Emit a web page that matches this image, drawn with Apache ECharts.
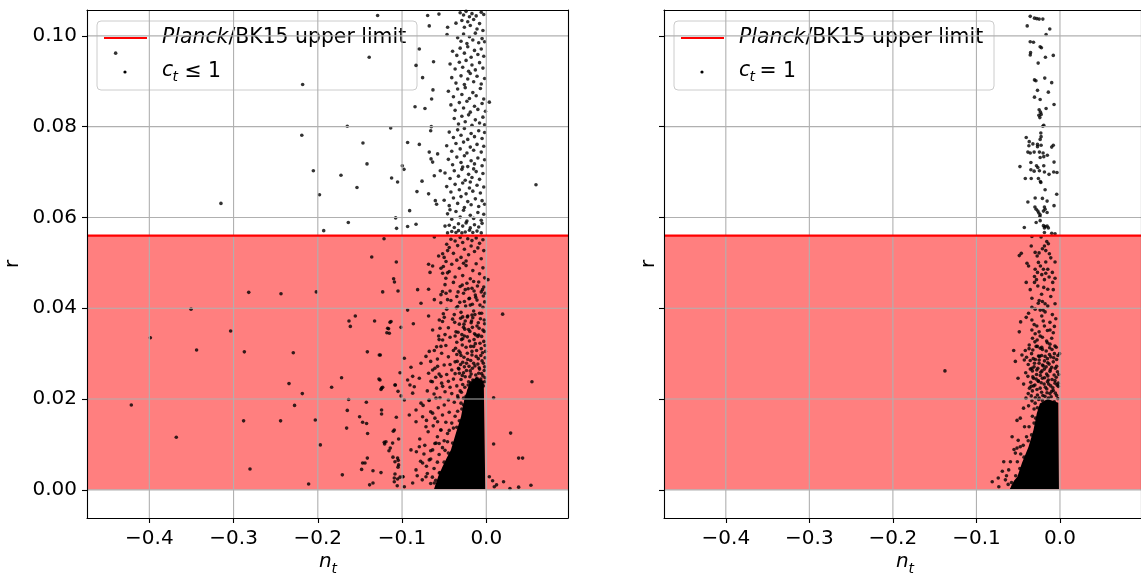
<!DOCTYPE html>
<html><head><meta charset="utf-8">
<script src="https://cdn.jsdelivr.net/npm/echarts/dist/echarts.min.js"></script>
<style>html,body{margin:0;padding:0;background:#fff}#c{width:1141px;height:577px}</style>
</head><body><div id="c"></div>
<script>
// ---------- axis ranges & ticks ----------
const X_MIN = -0.474, X_MAX = 0.097;
const Y_MIN = -0.0062, Y_MAX = 0.1057;
const xTicks = [-0.4, -0.3, -0.2, -0.1, 0.0];
const yTicks = [0.00, 0.02, 0.04, 0.06, 0.08, 0.10];
const rUpperLimit = 0.056;   // Planck/BK15 upper limit on r

// ---------- left panel (c_t <= 1) ----------
const ctLe1Outliers = [
[-0.440,0.0962],[-0.218,0.0893],[-0.139,0.0953],[-0.129,0.1045],[-0.165,0.0801],[-0.1135,0.0797],[-0.219,0.0781],[-0.1464,0.0764],
[-0.1416,0.0718],[-0.2053,0.0703],[-0.1725,0.0693],[-0.0997,0.0714],[-0.0977,0.0706],[-0.1124,0.0687],[-0.1053,0.0678],[-0.1535,0.0666],
[-0.198,0.065],[-0.315,0.0631],[-0.1638,0.0589],[-0.1076,0.0599],[-0.1065,0.0576],[-0.193,0.0571],[-0.1214,0.0553],
[-0.136,0.0513],[-0.1068,0.0502],[-0.110,0.0465],[-0.109,0.0458],[-0.282,0.0435],[-0.2437,0.0432],[-0.2018,0.0436],[-0.123,0.0436],
[-0.1048,0.0438],[-0.3505,0.0398],[-0.1555,0.0383],[-0.163,0.0372],[-0.1614,0.036],[-0.1326,0.0372],[-0.1143,0.0369],[-0.116,0.0355],
[-0.118,0.0346],[-0.3988,0.0335],[-0.3035,0.035],[-0.3439,0.0308],[-0.2872,0.0304],[-0.2291,0.0302],[-0.1412,0.0304],[-0.1258,0.0297],
[-0.1718,0.0247],[-0.1836,0.0226],[-0.2342,0.0234],[-0.2184,0.0212],[-0.1274,0.0244],[-0.123,0.0226],[-0.125,0.0221],[-0.1084,0.0231],
[-0.1048,0.0217],[-0.4214,0.0187],[-0.368,0.0116],[-0.2276,0.0186],[-0.2881,0.0152],[-0.2442,0.0152],[-0.203,0.0154],[-0.197,0.0099],
[-0.2805,0.0046],[-0.2109,0.0013],[-0.1634,0.0199],[-0.1424,0.0193],[-0.165,0.0175],[-0.1504,0.0161],[-0.1468,0.0149],[-0.1421,0.0146],
[-0.1658,0.0136],[-0.1409,0.0124],[-0.1243,0.0176],[-0.1243,0.0167],[-0.1068,0.016],[-0.1104,0.0129],[-0.1041,0.0112],[-0.1211,0.0105],
[-0.1207,0.0101],[-0.114,0.0092],[-0.1155,0.0086],[-0.1412,0.007],[-0.1468,0.0059],[-0.144,0.0059],[-0.148,0.0045],[-0.1345,0.0042],
[-0.125,0.0038],[-0.1709,0.0033],[-0.1385,0.0011],[-0.1345,0.0015],[-0.1084,0.0035],[-0.1092,0.0018],[-0.1053,0.0024],[-0.1057,0.0009],
[-0.1024,0.0028],[-0.0989,0.0029],[-0.1108,0.0072],[-0.1084,0.0062],[-0.1045,0.0065],[-0.1041,0.0055],[-0.1048,0.005],
[-0.0696,0.1045],[-0.0562,0.1048],[-0.0677,0.1022],[-0.0459,0.1019],[-0.0466,0.1003],[-0.0795,0.0971],[-0.0834,0.0935],[-0.0626,0.0943],
[-0.0756,0.0908],[-0.0846,0.0844],[-0.0728,0.084],[-0.0649,0.0861],[-0.0633,0.0881],[-0.0653,0.08],[-0.066,0.0791],[-0.0934,0.0765],
[-0.0795,0.0761],[-0.0677,0.0744],[-0.0578,0.074],[-0.0656,0.0729],[-0.0637,0.0722],[-0.0763,0.068],[-0.0546,0.0703],[-0.0617,0.0692],
[-0.0823,0.0657],[-0.0685,0.0652],[-0.0605,0.0637],[-0.059,0.0629],[-0.091,0.0615],[-0.0834,0.0585],[-0.0934,0.058],[-0.049,0.0581],
[-0.0431,0.0617],[-0.0617,0.0557],[0.059,0.0672],[0.0036,0.0854],
[0.002,0.0463],[0.0194,0.0387],[0.0542,0.0238],[0.0087,0.0203],[0.0289,0.0125],[0.0087,0.0101],[0.0384,0.007],[0.0431,0.007],
[0.0036,0.0029],[0.0075,0.002],[0.0122,0.0011],[0.0095,0.0007],[0.0205,0.0018],[0.0384,0.0006],[0.053,0.001],[0.0281,0.0003]
];
const ctLe1Fringe = [
[-0.0685,0.0497],[-0.0637,0.0493],[-0.0668,0.0479],[-0.0538,0.0488],[-0.0518,0.0477],[-0.0478,0.0503],[-0.0566,0.0515],[-0.0518,0.052],
[-0.0459,0.0527],[-0.0815,0.0441],[-0.0685,0.0442],[-0.0775,0.0411],[-0.0617,0.0419],[-0.0538,0.043],[-0.0478,0.0433],[-0.0934,0.0396],
[-0.1131,0.0371],[-0.1171,0.0356],[-0.1151,0.0345],[-0.1012,0.0358],[-0.0866,0.0366],[-0.0685,0.0383],[-0.0558,0.0374],[-0.0499,0.038],
[-0.0637,0.0352],[-0.0566,0.0339],[-0.0518,0.033],[-0.0677,0.0305],[-0.0617,0.0307],[-0.0538,0.0316],[-0.127,0.0297],[-0.0973,0.029],
[-0.0894,0.027],[-0.0874,0.025],[-0.1024,0.0258],[-0.108,0.0231],[-0.1262,0.0242],[-0.1243,0.0224],[-0.0775,0.0279],[-0.0716,0.0294],
[-0.0685,0.0257],[-0.0795,0.0246],[-0.0637,0.0264],[-0.0578,0.0272],[-0.0538,0.025],[-0.0657,0.0239],[-0.0518,0.0228],[-0.0934,0.0242],
[-0.0906,0.0231],[-0.0855,0.0227],[-0.1012,0.0207],[-0.0973,0.0198],[-0.0874,0.0213],[-0.0775,0.0191],[-0.0834,0.0176],[-0.0677,0.0198],
[-0.0597,0.0202],[-0.0499,0.0187],[-0.0914,0.0165],[-0.0834,0.015],[-0.1092,0.0132],[-0.1191,0.0106],[-0.1112,0.0103],[-0.0756,0.0161],
[-0.0637,0.0169],[-0.0716,0.0139],[-0.0578,0.015],[-0.0538,0.0132],[-0.1053,0.007],[-0.1092,0.0026],[-0.0993,0.0029],[-0.0834,0.0044],
[-0.0756,0.0059],[-0.0677,0.0066],[-0.0637,0.0088],[-0.0597,0.0103],[-0.0795,0.0095],[-0.0894,0.0088],[-0.0874,0.0015],[-0.0716,0.0029],
[-0.0617,0.0015],[-0.0558,0.0037],[-0.0973,0.0007],
[-0.066,0.0172],[-0.061,0.0158],[-0.057,0.0181],[-0.052,0.0165],[-0.048,0.0149],[-0.044,0.0171],[-0.069,0.0128],[-0.063,0.0141],
[-0.058,0.0117],[-0.054,0.0132],[-0.050,0.0108],[-0.046,0.0124],[-0.073,0.0098],[-0.066,0.0086],[-0.061,0.0102],[-0.056,0.0078],
[-0.052,0.0093],[-0.078,0.0063],[-0.071,0.0052],[-0.066,0.0068],[-0.062,0.0047],[-0.058,0.0061],[-0.082,0.0031],[-0.076,0.0022],
[-0.070,0.0036],[-0.066,0.0014],[-0.064,0.0028],[-0.074,0.0079],[-0.079,0.0112],[-0.083,0.0084],[-0.071,0.0153],[-0.075,0.0186],
[-0.068,0.0197],[-0.059,0.0224],[-0.064,0.0238],[-0.070,0.0218],[-0.056,0.0255],[-0.061,0.0268],[-0.066,0.0283],[-0.053,0.0301],
[-0.059,0.0315],[-0.049,0.0342],[-0.055,0.0356],[-0.051,0.0388],[-0.046,0.0419],[-0.052,0.0437],[-0.048,0.0466],[-0.044,0.0481],
[-0.050,0.0512],[-0.047,0.0541],
[-0.060,0.0021],[-0.058,0.0009],[-0.055,0.0038],[-0.053,0.0024],[-0.050,0.0061],[-0.048,0.0043],[-0.045,0.0081],[-0.043,0.0066],
[-0.040,0.0103],[-0.038,0.0091],[-0.035,0.0138],[-0.033,0.0119],[-0.032,0.0152],[-0.029,0.0178],[-0.027,0.0187],[-0.024,0.0206],
[-0.021,0.0218],[-0.056,0.0102],[-0.049,0.0087],[-0.046,0.0106],[-0.044,0.0131],[-0.041,0.0147],[-0.039,0.0136],[-0.037,0.0162],
[-0.034,0.0173],[-0.030,0.0191]
];
const ctLe1BandLow = [
[-0.042,0.0552],[-0.037,0.0548],[-0.031,0.0556],[-0.028,0.0545],[-0.022,0.0553],[-0.017,0.0549],[-0.012,0.0555],[-0.008,0.0543],[-0.004,0.0551],
[-0.044,0.0534],[-0.039,0.0521],[-0.034,0.0538],[-0.030,0.0512],[-0.026,0.053],[-0.021,0.0518],[-0.018,0.0537],[-0.014,0.0525],[-0.010,0.0533],[-0.006,0.0509],[-0.003,0.0527],[-0.024,0.0504],[-0.035,0.0506],
[-0.051,0.0492],[-0.046,0.0478],[-0.041,0.0497],[-0.037,0.0469],[-0.032,0.0488],[-0.028,0.0472],[-0.024,0.0494],[-0.019,0.0465],[-0.016,0.0483],[-0.012,0.0498],[-0.008,0.0476],[-0.004,0.0489],[-0.002,0.0467],[-0.027,0.0499],
[-0.049,0.0452],[-0.043,0.0438],[-0.039,0.0457],[-0.035,0.0426],[-0.031,0.0448],[-0.027,0.0433],[-0.023,0.0455],[-0.020,0.0422],[-0.017,0.0444],[-0.013,0.0429],[-0.009,0.0458],[-0.006,0.0436],[-0.003,0.0447],[-0.025,0.0441],[-0.015,0.0459],
[-0.054,0.0412],[-0.047,0.0398],[-0.042,0.0417],[-0.038,0.0386],[-0.034,0.0404],[-0.030,0.0391],[-0.026,0.0415],[-0.022,0.0383],[-0.019,0.0407],[-0.015,0.0394],[-0.011,0.0418],[-0.008,0.0389],[-0.004,0.0402],[-0.002,0.0414],[-0.028,0.0381],[-0.017,0.0385],
[-0.052,0.0371],[-0.045,0.0357],[-0.040,0.0376],[-0.036,0.0348],[-0.032,0.0365],[-0.029,0.0342],[-0.025,0.0372],[-0.021,0.0353],[-0.018,0.0368],[-0.014,0.0344],[-0.011,0.0361],[-0.007,0.0377],[-0.004,0.0352],[-0.002,0.0366],[-0.027,0.0358],[-0.016,0.0379],[-0.009,0.0341],
[-0.056,0.0331],[-0.048,0.0318],[-0.043,0.0336],[-0.039,0.0307],[-0.035,0.0325],[-0.031,0.0302],[-0.028,0.0333],[-0.024,0.0314],[-0.020,0.0328],[-0.017,0.0305],[-0.013,0.0322],[-0.010,0.0338],[-0.006,0.0311],[-0.003,0.0327],[-0.001,0.0305],[-0.026,0.0339],[-0.015,0.0316],[-0.037,0.0339],
[-0.058,0.0288],[-0.050,0.0275],[-0.045,0.0293],[-0.041,0.0264],[-0.037,0.0282],[-0.033,0.0268],[-0.030,0.0296],[-0.026,0.0271],[-0.022,0.0287],[-0.019,0.0262],[-0.015,0.0279],[-0.012,0.0294],[-0.008,0.0266],[-0.005,0.0284],[-0.002,0.0271],[-0.028,0.0281],[-0.017,0.0297],[-0.010,0.0277],[-0.035,0.0298],[-0.043,0.0276],
[-0.060,0.0248],[-0.053,0.0235],[-0.047,0.0254],[-0.043,0.0226],[-0.039,0.0244],[-0.035,0.0229],[-0.032,0.0257],[-0.028,0.0232],[-0.025,0.0249],[-0.021,0.0238],[-0.018,0.0255],[-0.014,0.0229],[-0.011,0.0246],[-0.007,0.0233],[-0.004,0.0251],[-0.002,0.0238],[-0.030,0.0243],[-0.016,0.0242],[-0.009,0.0257],[-0.037,0.0256],[-0.045,0.0239],[-0.027,0.0258],
[-0.062,0.0211],[-0.055,0.0203],[-0.049,0.0216],[-0.045,0.0198],[-0.041,0.0212],[-0.038,0.0193],[-0.034,0.0207],[-0.031,0.0218],[-0.027,0.0202]
];
const ctLe1BandDense = [
[-0.0335,0.0203],[-0.0295,0.0215],[-0.0255,0.0226],[-0.0215,0.0231],[-0.0185,0.0236],[-0.0145,0.0241],[-0.0105,0.0236],[-0.0065,0.0244],[-0.0035,0.0229],[-0.0015,0.0247],
[-0.0325,0.0266],[-0.0285,0.0252],[-0.0235,0.0263],[-0.0195,0.0249],[-0.0165,0.0268],[-0.0125,0.0253],[-0.0085,0.0269],[-0.0055,0.0256],[-0.0025,0.0263],[-0.0205,0.0272],
[-0.0345,0.0283],[-0.0305,0.0276],[-0.0265,0.0292],[-0.0235,0.0279],[-0.0185,0.0285],[-0.0135,0.0273],[-0.0095,0.0289],[-0.0065,0.0296],[-0.0035,0.0279],[-0.0015,0.0291],
[-0.0365,0.0312],[-0.0325,0.0306],[-0.0285,0.0319],[-0.0225,0.0301],[-0.0185,0.0316],[-0.0145,0.0331],[-0.0115,0.0307],[-0.0075,0.0323],[-0.0045,0.0302],[-0.0015,0.0318],
[-0.0335,0.0347],[-0.0295,0.0331],[-0.0255,0.0354],[-0.0225,0.0337],[-0.0195,0.0349],[-0.0165,0.0358],[-0.0125,0.0341],[-0.0085,0.0356],[-0.0055,0.0338],[-0.0025,0.0349],
[-0.0375,0.0369],[-0.0305,0.0378],[-0.0265,0.0365],[-0.0225,0.0381],[-0.0175,0.0372],[-0.0135,0.0386],[-0.0095,0.0368],[-0.0055,0.0389],[-0.0025,0.0374],
[-0.0355,0.0401],[-0.0315,0.0413],[-0.0245,0.0405],[-0.0205,0.0421],[-0.0165,0.0409],[-0.0125,0.0424],[-0.0075,0.0407],[-0.0035,0.0427],
[-0.0335,0.0436],[-0.0285,0.0451],[-0.0215,0.0443],[-0.0145,0.0438],[-0.0105,0.0449],[-0.0045,0.0441],[-0.0015,0.0433]
];
const ctLe1BandHigh = [
[-0.031,0.1051],[-0.027,0.1046],[-0.024,0.1054],[-0.020,0.1042],[-0.017,0.1049],[-0.012,0.1044],[-0.006,0.1052],[-0.003,0.1047],
[-0.036,0.1028],[-0.029,0.1034],[-0.026,0.1019],[-0.022,0.1031],[-0.019,0.1023],[-0.015,0.1036],[-0.011,0.1015],[-0.008,0.1027],[-0.004,0.1012],
[-0.034,0.0996],[-0.030,0.0988],[-0.027,0.1004],[-0.023,0.0983],[-0.020,0.0998],[-0.016,0.0991],[-0.013,0.1006],[-0.009,0.0985],[-0.005,0.0994],[-0.002,0.0987],
[-0.040,0.0966],[-0.035,0.0957],[-0.031,0.0973],[-0.026,0.0962],[-0.022,0.0976],[-0.018,0.0953],[-0.014,0.0968],[-0.010,0.0959],[-0.006,0.0971],[-0.003,0.0955],
[-0.043,0.0938],[-0.037,0.0927],[-0.032,0.0942],[-0.028,0.0931],[-0.024,0.0946],[-0.021,0.0922],[-0.017,0.0936],[-0.013,0.0925],[-0.008,0.0941],[-0.004,0.0929],
[-0.041,0.0908],[-0.036,0.0896],[-0.030,0.0912],[-0.026,0.0893],[-0.022,0.0905],[-0.019,0.0917],[-0.015,0.0899],[-0.011,0.0911],[-0.006,0.0894],[-0.002,0.0906],
[-0.045,0.0878],[-0.039,0.0866],[-0.034,0.0883],[-0.029,0.0871],[-0.025,0.0886],[-0.020,0.0862],[-0.016,0.0875],[-0.012,0.0868],[-0.007,0.0884],[-0.003,0.0861],
[-0.042,0.0848],[-0.037,0.0836],[-0.032,0.0853],[-0.027,0.0841],[-0.023,0.0856],[-0.019,0.0832],[-0.014,0.0845],[-0.010,0.0838],[-0.005,0.0851],[-0.001,0.0834],
[-0.038,0.0818],[-0.033,0.0806],[-0.029,0.0823],[-0.025,0.0811],[-0.021,0.0826],[-0.017,0.0803],[-0.013,0.0815],[-0.008,0.0808],[-0.004,0.0821],[-0.002,0.0804],
[-0.044,0.0788],[-0.039,0.0776],[-0.034,0.0793],[-0.030,0.0781],[-0.026,0.0796],[-0.022,0.0772],[-0.018,0.0785],[-0.014,0.0778],[-0.009,0.0791],[-0.005,0.0774],[-0.002,0.0787],
[-0.047,0.0758],[-0.041,0.0746],[-0.036,0.0763],[-0.031,0.0751],[-0.027,0.0766],[-0.023,0.0742],[-0.019,0.0755],[-0.015,0.0748],[-0.011,0.0761],[-0.006,0.0744],[-0.003,0.0757],
[-0.045,0.0728],[-0.040,0.0716],[-0.035,0.0733],[-0.030,0.0721],[-0.026,0.0736],[-0.022,0.0712],[-0.018,0.0725],[-0.014,0.0718],[-0.010,0.0731],[-0.005,0.0714],[-0.002,0.0727],[-0.028,0.0711],
[-0.049,0.0698],[-0.043,0.0686],[-0.038,0.0703],[-0.033,0.0691],[-0.029,0.0706],[-0.025,0.0682],[-0.021,0.0695],[-0.017,0.0688],[-0.012,0.0701],[-0.008,0.0684],[-0.004,0.0697],[-0.015,0.0707],
[-0.047,0.0668],[-0.042,0.0656],[-0.037,0.0673],[-0.032,0.0661],[-0.028,0.0676],[-0.024,0.0652],[-0.020,0.0665],[-0.016,0.0658],[-0.011,0.0671],[-0.007,0.0654],[-0.003,0.0667],[-0.019,0.0678],
[-0.050,0.0638],[-0.044,0.0626],[-0.039,0.0643],[-0.034,0.0631],[-0.030,0.0646],[-0.026,0.0622],[-0.022,0.0635],[-0.018,0.0628],[-0.013,0.0641],[-0.009,0.0624],[-0.005,0.0637],[-0.002,0.0629],
[-0.046,0.0608],[-0.041,0.0596],[-0.036,0.0613],[-0.031,0.0601],[-0.027,0.0616],[-0.023,0.0592],[-0.019,0.0605],[-0.015,0.0598],[-0.010,0.0611],[-0.006,0.0594],[-0.003,0.0607],
[-0.044,0.0583],[-0.038,0.0578],[-0.033,0.0586],[-0.028,0.0581],[-0.024,0.0588],[-0.019,0.0577],[-0.014,0.0584],[-0.009,0.0579],[-0.005,0.0587],
[-0.046,0.0566],[-0.041,0.0569],[-0.036,0.0567],[-0.033,0.0571],[-0.029,0.0566],[-0.025,0.0568],[-0.020,0.0572],[-0.016,0.0567],[-0.011,0.057],[-0.006,0.0566]
];
// outline of the solid (saturated) cloud of points, left panel
const ctLe1Core = [
[-0.062,0.0002],[-0.057,0.0030],[-0.052,0.0051],[-0.047,0.0070],[-0.042,0.0088],[-0.036,0.0125],[-0.030,0.0161],
[-0.026,0.0200],[-0.020,0.0235],[-0.012,0.0248],[-0.003,0.0240],[-0.0012,0.0002]
];

// ---------- right panel (c_t = 1) ----------
const ctEq1Points = [
[-0.0356,0.1043],[-0.0305,0.1039],[-0.0277,0.1038],[-0.0249,0.1037],[-0.0205,0.1037],[-0.0392,0.1022],[-0.0122,0.1015],[-0.0166,0.1003],
[-0.0356,0.0987],[-0.0317,0.0986],[-0.0237,0.0976],[-0.0222,0.0974],[-0.0352,0.0963],[-0.0356,0.0958],[-0.008,0.0957],[-0.0174,0.0953],
[-0.0261,0.094],[-0.0305,0.0903],[-0.0288,0.0901],[-0.0182,0.0907],[-0.0099,0.0897],[-0.0269,0.088],[-0.0139,0.0876],[-0.0305,0.0865],
[-0.0237,0.086],[-0.0071,0.0849],[-0.0166,0.084],[-0.0249,0.0837],[-0.0233,0.0832],[-0.0253,0.0825],[-0.0241,0.082],[-0.0225,0.0827],
[-0.0194,0.0803],[-0.0205,0.0801],[-0.0229,0.0786],[-0.0226,0.0778],[-0.0237,0.0772],[-0.0404,0.0776],[-0.0368,0.0767],[-0.0372,0.0758],
[-0.0324,0.0762],[-0.0269,0.0761],[-0.0269,0.0756],[-0.0226,0.0759],[-0.008,0.0759],[-0.0099,0.0755],[-0.0384,0.0744],[-0.0356,0.0742],
[-0.0309,0.0744],[-0.0246,0.0744],[-0.0202,0.0742],[-0.0151,0.0737],[-0.0237,0.0732],[-0.0194,0.0734],[-0.0348,0.0721],[-0.0281,0.0714],
[-0.0265,0.071],[-0.0194,0.0714],[-0.0071,0.0722],[-0.0479,0.0712],[-0.0348,0.0705],[-0.0309,0.0702],[-0.0246,0.0703],[-0.0186,0.07],
[-0.0131,0.0695],[-0.0075,0.07],[-0.0036,0.0699],[-0.0415,0.0686],[-0.0344,0.0686],[-0.0258,0.0686],[-0.0234,0.0679],[-0.0229,0.0677],
[-0.0178,0.0661],[-0.0039,0.0651],[-0.0297,0.0643],[-0.021,0.0642],[-0.0154,0.0636],[-0.0071,0.0626],[-0.0384,0.0634],
[-0.03,0.0623],[-0.0285,0.0618],[-0.0265,0.0614],[-0.0253,0.061],[-0.0237,0.0606],[-0.0198,0.0614],[-0.0178,0.0618],[-0.0186,0.0623],
[-0.0154,0.0611],[-0.0241,0.0602],[-0.0237,0.0593],[-0.0285,0.0589],[-0.0198,0.0582],[-0.0178,0.058],[-0.0154,0.0581],[-0.0139,0.0577],
[-0.0186,0.0577],[-0.0427,0.0578],[-0.0099,0.0565],[-0.0059,0.0564],
[-0.0336,0.0558],[-0.0226,0.0557],[-0.0186,0.0567],[-0.0158,0.0547],[-0.0186,0.0537],[-0.0139,0.0542],[-0.017,0.0527],[-0.0127,0.052],
[-0.0344,0.0537],[-0.0463,0.0521],[-0.0487,0.0516],[-0.0297,0.0523],[-0.0273,0.0515],[-0.0395,0.0499],[-0.0376,0.0493],[-0.0258,0.0501],
[-0.017,0.0502],[-0.0059,0.0502],[-0.0234,0.0493],[-0.0198,0.0486],[-0.0146,0.0486],[-0.0297,0.0486],[-0.0269,0.0479],[-0.0305,0.047],
[-0.0218,0.0474],[-0.017,0.0477],[-0.0091,0.0479],[-0.0404,0.0457],[-0.0305,0.0457],[-0.0281,0.0463],[-0.0186,0.0463],[-0.0087,0.0457],
[-0.0059,0.0466],[-0.0265,0.0449],[-0.0194,0.0446],[-0.0146,0.0442],[-0.008,0.0441],[-0.0356,0.0441],
[-0.0336,0.0422],[-0.0249,0.0417],[-0.021,0.0415],[-0.0178,0.041],[-0.0146,0.0405],[-0.0059,0.041],[-0.0336,0.0402],[-0.0297,0.0398],
[-0.0237,0.0396],[-0.0202,0.0396],[-0.0178,0.0392],[-0.0218,0.0383],[-0.0091,0.0386],
[-0.0376,0.0389],[-0.0404,0.038],[-0.0336,0.0374],[-0.0471,0.037],[-0.0487,0.0348],[-0.0309,0.0364],[-0.0277,0.0361],[-0.0186,0.0361],
[-0.0119,0.0352],[-0.0067,0.036],[-0.0336,0.0352],[-0.0297,0.0344],[-0.0237,0.0339],
[-0.0329,0.0334],[-0.0273,0.033],[-0.021,0.0336],[-0.0151,0.0324],[-0.0099,0.0334],[-0.0368,0.0319],[-0.0285,0.0316],[-0.0218,0.0314],
[-0.0123,0.0313],[-0.0554,0.0307],[-0.0415,0.0307],[-0.034,0.03],[-0.0257,0.0295],[-0.0178,0.0294],[-0.0067,0.03],[-0.0005,0.03],
[-0.0534,0.0283],[-0.0455,0.0297],[-0.0427,0.0286],[-0.0356,0.0285],[-0.0305,0.0279],[-0.0249,0.0286],[-0.021,0.0275],[-0.0146,0.028],
[-0.0099,0.027],[-0.004,0.0272],[-0.0336,0.0268],[-0.0277,0.0264],[-0.0186,0.0266],
[-0.0502,0.0246],[-0.0435,0.0233],[-0.0384,0.025],[-0.0317,0.0246],[-0.0258,0.0239],[-0.021,0.0246],[-0.0139,0.0242],[-0.0059,0.0235],
[-0.0344,0.0228],[-0.0237,0.0224],[-0.0158,0.0222],[-0.0099,0.0217],[-0.002,0.0228],
[-0.0407,0.0202],[-0.0344,0.0207],[-0.0297,0.0191],[-0.0249,0.0202],[-0.021,0.0197],[-0.0139,0.0202],[-0.0068,0.0194],[-0.0436,0.018],
[-0.0376,0.0185],[-0.0475,0.0158],[-0.0514,0.0153],[-0.0424,0.0139],[-0.0573,0.0117],[-0.0514,0.0092],[-0.0475,0.0095],[-0.0534,0.0081],
[-0.0593,0.0062],[-0.0673,0.0062],[-0.0739,0.0026],[-0.0811,0.0018],[-0.0732,0.0007],[-0.0653,0.0022],[-0.0614,0.0044],
[-0.038,0.0212],[-0.033,0.0218],[-0.027,0.0209],[-0.022,0.0215],[-0.018,0.0206],[-0.012,0.0212],[-0.008,0.0219],[-0.004,0.0208],
[-0.035,0.0237],[-0.030,0.0231],[-0.026,0.024],[-0.019,0.0233],[-0.015,0.0238],[-0.011,0.0229],[-0.006,0.0241],[-0.002,0.0235],
[-0.041,0.0258],[-0.033,0.0262],[-0.028,0.0254],[-0.023,0.0259],[-0.016,0.0255],[-0.012,0.0261],[-0.007,0.0253],[-0.003,0.026],
[-0.038,0.0276],[-0.031,0.0271],[-0.025,0.0279],[-0.020,0.0273],[-0.013,0.0277],[-0.008,0.0282],[-0.040,0.0292],[-0.032,0.0289],
[-0.022,0.0296],[-0.015,0.0289],[-0.011,0.0293],[-0.004,0.0287],[-0.037,0.0311],[-0.027,0.0316],[-0.021,0.0309],[-0.012,0.0321],
[-0.006,0.0317],[-0.030,0.0326],[-0.016,0.0328],[-0.025,0.0348],[-0.015,0.0351],[-0.008,0.0346],[-0.020,0.0372],[-0.012,0.0369],
[-0.005,0.0377],[-0.026,0.0411],[-0.011,0.0426],[-0.022,0.0431],[-0.013,0.0469],[-0.025,0.0522],[-0.021,0.0531],[-0.011,0.0511],
[-0.1377,0.0262]
];
const ctEq1Dense = [
[-0.0335,0.0196],[-0.0295,0.0203],[-0.0255,0.0199],[-0.0205,0.0208],[-0.0155,0.0214],[-0.0105,0.0205],[-0.0055,0.0213],[-0.0025,0.0201],
[-0.0365,0.0224],[-0.0315,0.0229],[-0.0275,0.0221],[-0.0225,0.0236],[-0.0175,0.0226],[-0.0135,0.0233],[-0.0085,0.0225],[-0.0035,0.0231],
[-0.0325,0.0249],[-0.0285,0.0244],[-0.0235,0.0252],[-0.0185,0.0247],[-0.0145,0.0251],[-0.0095,0.0243],[-0.0045,0.0248],[-0.0015,0.0254],
[-0.0355,0.0266],[-0.0265,0.0268],[-0.0215,0.0262],[-0.0165,0.0271],[-0.0115,0.0265],[-0.0055,0.0268],
[-0.0295,0.0287],[-0.0245,0.0294],[-0.0185,0.0284],[-0.0125,0.0298],[-0.0075,0.0291],[-0.0025,0.0296],
[-0.0325,0.0308],[-0.0235,0.0312],[-0.0165,0.0306],[-0.0095,0.0309],[-0.0045,0.0314],
[-0.058,0.0016],[-0.056,0.0008],[-0.053,0.0031],[-0.050,0.0018],[-0.048,0.0047],[-0.046,0.0036],[-0.043,0.0072],[-0.041,0.0061],
[-0.038,0.0108],[-0.036,0.0087],[-0.034,0.0121],[-0.031,0.0147],[-0.029,0.0158],[-0.027,0.0181],[-0.051,0.0062],[-0.047,0.0079],
[-0.044,0.0098],[-0.040,0.0117],[-0.037,0.0139],[-0.033,0.0162],[-0.031,0.0178],[-0.064,0.0031],[-0.062,0.0012],[-0.069,0.0041],
[-0.055,0.0089],[-0.050,0.0109]
];
const ctEq1Core = [
[-0.060,0.0002],[-0.055,0.0020],[-0.051,0.0029],[-0.0455,0.0059],[-0.0376,0.0095],[-0.0317,0.0132],[-0.0277,0.0169],
[-0.024,0.0190],[-0.015,0.0200],[-0.002,0.0192],[-0.0012,0.0002]
];

// ---------- labels ----------
const legendLimitLabel = ['Planck', '/BK15 upper limit'];
const legendPointLabels = [['c', 't', '\u2264 1'], ['c', 't', '= 1']];
const xAxisTitle = ['n', 't'];
const yAxisTitle = 'r';

const ctLe1All = ctLe1Outliers.concat(ctLe1Fringe, ctLe1BandLow, ctLe1BandDense, ctLe1BandHigh);
const ctEq1All = ctEq1Points.concat(ctEq1Dense);

// ---------- chart ----------
const FONT = 'DejaVu Sans';
const FS = 20;
const FS_LEG = 20.4;
const GRID_W = 481, GRID_H = 508, GRID_TOP = 10;
const GRID_LEFTS = [87, 664];

const chart = echarts.init(document.getElementById('c'), null, {renderer: 'canvas'});

const fmtX = v => (v < 0 ? '\u2212' : '') + Math.abs(v).toFixed(1);
const fmtY = v => v.toFixed(2);

const xAxes = [], yAxes = [];
GRID_LEFTS.forEach((_, g) => {
  xAxes.push({
    gridIndex: g, type: 'value', min: X_MIN, max: X_MAX, position: 'bottom', z: 5,
    axisLine: {show: true, onZero: false, lineStyle: {color: '#000', width: 1.1}},
    axisTick: {show: true, customValues: xTicks, length: 5, lineStyle: {color: '#000', width: 1.1}},
    axisLabel: {show: true, customValues: xTicks, formatter: fmtX, color: '#000', fontFamily: FONT, fontSize: FS, margin: 11},
    splitLine: {show: false}
  });
  xAxes.push({
    gridIndex: g, type: 'value', min: X_MIN, max: X_MAX, position: 'top', z: 5,
    axisLine: {show: true, onZero: false, lineStyle: {color: '#000', width: 1.1}},
    axisTick: {show: false}, axisLabel: {show: false}, splitLine: {show: false}
  });
  yAxes.push({
    gridIndex: g, type: 'value', min: Y_MIN, max: Y_MAX, position: 'left', z: 5,
    axisLine: {show: true, onZero: false, lineStyle: {color: '#000', width: 1.1}},
    axisTick: {show: true, customValues: yTicks, length: 5, lineStyle: {color: '#000', width: 1.1}},
    axisLabel: {show: g === 0, customValues: yTicks, formatter: fmtY, color: '#000', fontFamily: FONT, fontSize: FS, margin: 10},
    splitLine: {show: false}
  });
  yAxes.push({
    gridIndex: g, type: 'value', min: Y_MIN, max: Y_MAX, position: 'right', z: 5,
    axisLine: {show: true, onZero: false, lineStyle: {color: '#000', width: 1.1}},
    axisTick: {show: false}, axisLabel: {show: false}, splitLine: {show: false}
  });
});

function panelSeries(g, points, core) {
  const xi = g * 2, yi = g * 2;
  return [
    { // shaded excluded region below the limit
      type: 'custom', xAxisIndex: xi, yAxisIndex: yi, z: 1, silent: true, animation: false,
      data: [[X_MIN, 0, X_MAX, rUpperLimit]],
      renderItem: (p, api) => {
        const a = api.coord([api.value(0), api.value(3)]);
        const b = api.coord([api.value(2), api.value(1)]);
        return {type: 'rect', shape: {x: a[0], y: a[1], width: b[0] - a[0], height: b[1] - a[1]},
                style: {fill: 'rgba(255,0,0,0.5)'}};
      }
    },
    { // saturated core of the point cloud
      type: 'custom', xAxisIndex: xi, yAxisIndex: yi, z: 2, silent: true, animation: false,
      data: [0],
      renderItem: (p, api) => ({type: 'polygon', shape: {points: core.map(c => api.coord(c))},
                                style: {fill: '#000'}})
    },
    {
      type: 'scatter', xAxisIndex: xi, yAxisIndex: yi, z: 2, silent: true, animation: false,
      symbol: 'circle', symbolSize: 3.6, itemStyle: {color: '#000'}, data: points
    },
    { // grid lines (drawn over data, as in the original)
      type: 'custom', xAxisIndex: xi, yAxisIndex: yi, z: 3, silent: true, animation: false,
      data: [0],
      renderItem: (p, api) => {
        const kids = [];
        xTicks.forEach(v => {
          const a = api.coord([v, Y_MIN]), b = api.coord([v, Y_MAX]);
          kids.push({type: 'line', shape: {x1: a[0], y1: a[1], x2: b[0], y2: b[1]}, style: {stroke: '#b0b0b0', lineWidth: 1.1}});
        });
        yTicks.forEach(v => {
          const a = api.coord([X_MIN, v]), b = api.coord([X_MAX, v]);
          kids.push({type: 'line', shape: {x1: a[0], y1: a[1], x2: b[0], y2: b[1]}, style: {stroke: '#b0b0b0', lineWidth: 1.1}});
        });
        return {type: 'group', children: kids};
      }
    },
    { // Planck/BK15 upper limit line
      type: 'custom', xAxisIndex: xi, yAxisIndex: yi, z: 4, silent: true, animation: false,
      data: [[X_MIN, rUpperLimit, X_MAX]],
      renderItem: (p, api) => {
        const a = api.coord([api.value(0), api.value(1)]), b = api.coord([api.value(2), api.value(1)]);
        return {type: 'line', shape: {x1: a[0], y1: a[1], x2: b[0], y2: b[1]}, style: {stroke: '#ff0000', lineWidth: 2.1}};
      }
    }
  ];
}

const graphics = [];
GRID_LEFTS.forEach((gl, g) => {
  const ox = gl - 87;
  const lab = legendPointLabels[g];
  graphics.push({
    type: 'group', z: 100, children: [
      {type: 'rect', shape: {x: 97 + ox, y: 21, width: 320, height: 69, r: 4},
       style: {fill: 'rgba(255,255,255,0.8)', stroke: '#cccccc', lineWidth: 1}},
      {type: 'line', shape: {x1: 104 + ox, y1: 38, x2: 147 + ox, y2: 38}, style: {stroke: '#ff0000', lineWidth: 2.1}},
      {type: 'text', x: 162 + ox, y: 38, style: {
        text: '{i|' + legendLimitLabel[0] + '}' + legendLimitLabel[1],
        fontFamily: FONT, fontSize: FS_LEG, fill: '#000', verticalAlign: 'middle', align: 'left',
        rich: {i: {fontFamily: FONT, fontSize: FS_LEG, fontStyle: 'italic', fill: '#000'}}}},
      {type: 'circle', shape: {cx: 125 + ox, cy: 72, r: 1.6}, style: {fill: '#000'}},
      {type: 'text', x: 162 + ox, y: 71, style: {text: lab[0], fontFamily: FONT, fontSize: FS_LEG, fontStyle: 'italic', fill: '#000', verticalAlign: 'middle', align: 'left'}},
      {type: 'text', x: 172.5 + ox, y: 77, style: {text: lab[1], fontFamily: FONT, fontSize: 14, fontStyle: 'italic', fill: '#000', verticalAlign: 'middle', align: 'left'}},
      {type: 'text', x: (g === 0 ? 184.5 : 182.5) + ox, y: 72, style: {text: lab[2], fontFamily: FONT, fontSize: FS_LEG, fill: '#000', verticalAlign: 'middle', align: 'left'}}
    ]
  });
  // x-axis title n_t
  graphics.push({type: 'text', x: 319 + ox, y: 562, z: 100, style: {text: xAxisTitle[0], fontFamily: FONT, fontSize: FS, fontStyle: 'italic', fill: '#000', verticalAlign: 'middle', align: 'left'}});
  graphics.push({type: 'text', x: 331.5 + ox, y: 569, z: 100, style: {text: xAxisTitle[1], fontFamily: FONT, fontSize: 14, fontStyle: 'italic', fill: '#000', verticalAlign: 'middle', align: 'left'}});
  // y-axis title r
  graphics.push({type: 'text', x: (g === 0 ? 13 : 649), y: 264, rotation: Math.PI / 2, z: 100,
    style: {text: yAxisTitle, fontFamily: FONT, fontSize: FS, fill: '#000', verticalAlign: 'middle', align: 'center'}});
});

chart.setOption({
  animation: false,
  backgroundColor: '#ffffff',
  grid: GRID_LEFTS.map(l => ({left: l, top: GRID_TOP, width: GRID_W, height: GRID_H, containLabel: false})),
  xAxis: xAxes,
  yAxis: yAxes,
  series: panelSeries(0, ctLe1All, ctLe1Core).concat(panelSeries(1, ctEq1All, ctEq1Core)),
  graphic: graphics
});
</script>
</body></html>
